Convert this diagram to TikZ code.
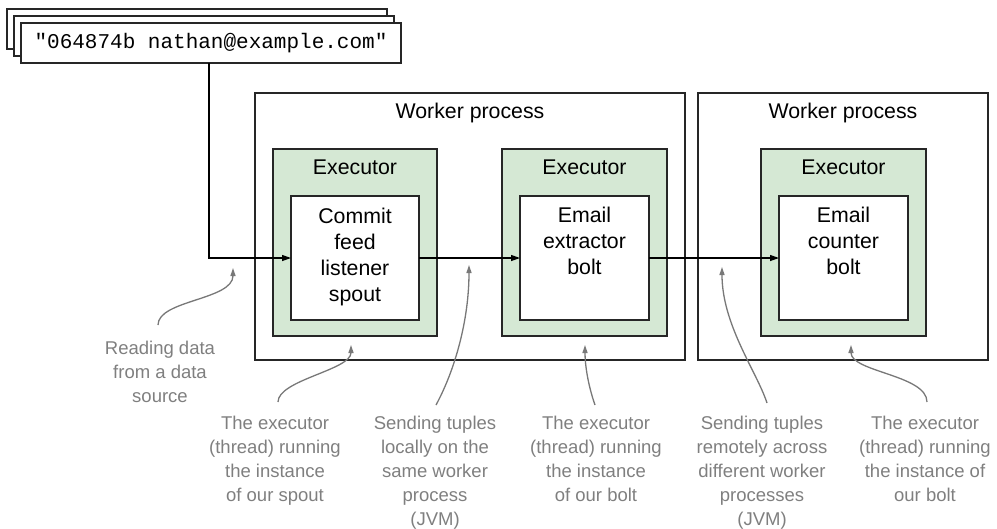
\documentclass[tikz,border=0pt]{standalone}
\usepackage{fontspec}
\setmainfont{Liberation Sans}
\newfontfamily\srcmono{Liberation Mono}
\usetikzlibrary{arrows.meta}
\definecolor{exgreen}{HTML}{D5E8D4}
\definecolor{anngray}{HTML}{787878}
\definecolor{anntext}{HTML}{7F7F7F}
\definecolor{edgecol}{HTML}{262626}
\begin{document}
\begin{tikzpicture}[x=1pt,y=-1pt,
  frame/.style={draw=edgecol,line width=1.3pt,fill=white,inner sep=0pt,outer sep=0pt},
  execbox/.style={frame,fill=exgreen},
  boxtxt/.style={font=\fontsize{21.3}{26}\selectfont,align=center,inner sep=0pt},
  srctxt/.style={font=\srcmono\fontsize{21}{25}\selectfont},
  anntxt/.style={font=\fontsize{18.5}{24}\selectfont,text=anntext,align=center,inner sep=0pt,outer sep=0pt,anchor=north},
  flow/.style={draw=black,line width=1.2pt,-{Triangle[length=9pt,width=6pt]}},
  ann/.style={draw=anngray,line width=1.3pt,-{Triangle[length=8pt,width=5pt]}}]
\useasboundingbox (0,0) rectangle (997,528);

% stacked source records
\node[frame,minimum width=380pt,minimum height=40pt] (srcc) at (197,29) {};
\node[frame,minimum width=380pt,minimum height=40pt] (srcb) at (204,36) {};
\node[frame,minimum width=380pt,minimum height=40pt,srctxt] (src) at (211,43) {"064874b nathan@example.com"};

% worker processes
\node[frame,minimum width=430pt,minimum height=267pt] (w1) at (470,226.5) {};
\node[frame,minimum width=290pt,minimum height=267pt] (w2) at (843,226.5) {};
\node[boxtxt] (w1t) at (470,113) {Worker process};
\node[boxtxt] (w2t) at (843,113) {Worker process};

% executors
\node[execbox,minimum width=164pt,minimum height=187pt] (e1) at (355,242.5) {};
\node[execbox,minimum width=165pt,minimum height=187pt] (e2) at (584.5,242.5) {};
\node[execbox,minimum width=165pt,minimum height=187pt] (e3) at (843.5,242.5) {};
\node[boxtxt] (e1t) at (355,167) {Executor};
\node[boxtxt] (e2t) at (584.5,167) {Executor};
\node[boxtxt] (e3t) at (843.5,167) {Executor};

% tasks
\node[frame,minimum width=128pt,minimum height=124pt] (spout) at (355,258) {};
\node[frame,minimum width=129pt,minimum height=124pt] (extr) at (584.5,258) {};
\node[frame,minimum width=129pt,minimum height=124pt] (cnt) at (843.5,258) {};
\node[boxtxt,anchor=north] (spoutt) at (355,208) {Commit\\feed\\listener\\spout};
\node[boxtxt,anchor=north] (extrt) at (584.5,207) {Email\\extractor\\bolt};
\node[boxtxt,anchor=north] (cntt) at (843.5,207) {Email\\counter\\bolt};

% data flow
\draw[flow] ([xshift=-2pt]src.south) |- (spout.west);
\draw[flow] (spout.east) -- (extr.west);
\draw[flow] (extr.east) -- (cnt.west);

% annotations
\node[anntxt] (t1) at (160,341) {Reading data\\from a data\\source};
\node[anntxt] (t2) at (275,416) {The executor\\(thread) running\\the instance\\of our spout};
\node[anntxt] (t3) at (435,416) {Sending tuples\\locally on the\\same worker\\process\\(JVM)};
\node[anntxt] (t4) at (596,416) {The executor\\(thread) running\\the instance\\of our bolt};
\node[anntxt] (t5) at (762,416) {Sending tuples\\remotely across\\different worker\\processes\\(JVM)};
\node[anntxt] (t6) at (925,416) {The executor\\(thread) running\\the instance of\\our bolt};

\coordinate (a1) at (233,268);
\coordinate (a2) at (351,345);
\coordinate (a3) at (469,265);
\coordinate (a4) at (585,345);
\coordinate (a5) at (722,267);
\coordinate (a6) at (851,345);

\draw[ann] ([xshift=-2pt,yshift=16pt]t1.north) .. controls +(0,-25) and +(0,32) .. (a1);
\draw[ann] ([xshift=3pt,yshift=14pt]t2.north) .. controls +(0,-22) and +(0,25) .. (a2);
\draw[ann] ([xshift=1pt,yshift=11pt]t3.north) .. controls +(19,-35) and +(0,55) .. (a3);
\draw[ann] ([xshift=-1pt,yshift=11pt]t4.north) .. controls +(-7,-20) and +(0,20) .. (a4);
\draw[ann] ([xshift=5pt,yshift=13pt]t5.north) .. controls +(-10,-31) and +(0,58) .. (a5);
\draw[ann] ([xshift=2pt,yshift=14pt]t6.north) .. controls +(0,-27) and +(0,27) .. (a6);
\end{tikzpicture}
\end{document}
